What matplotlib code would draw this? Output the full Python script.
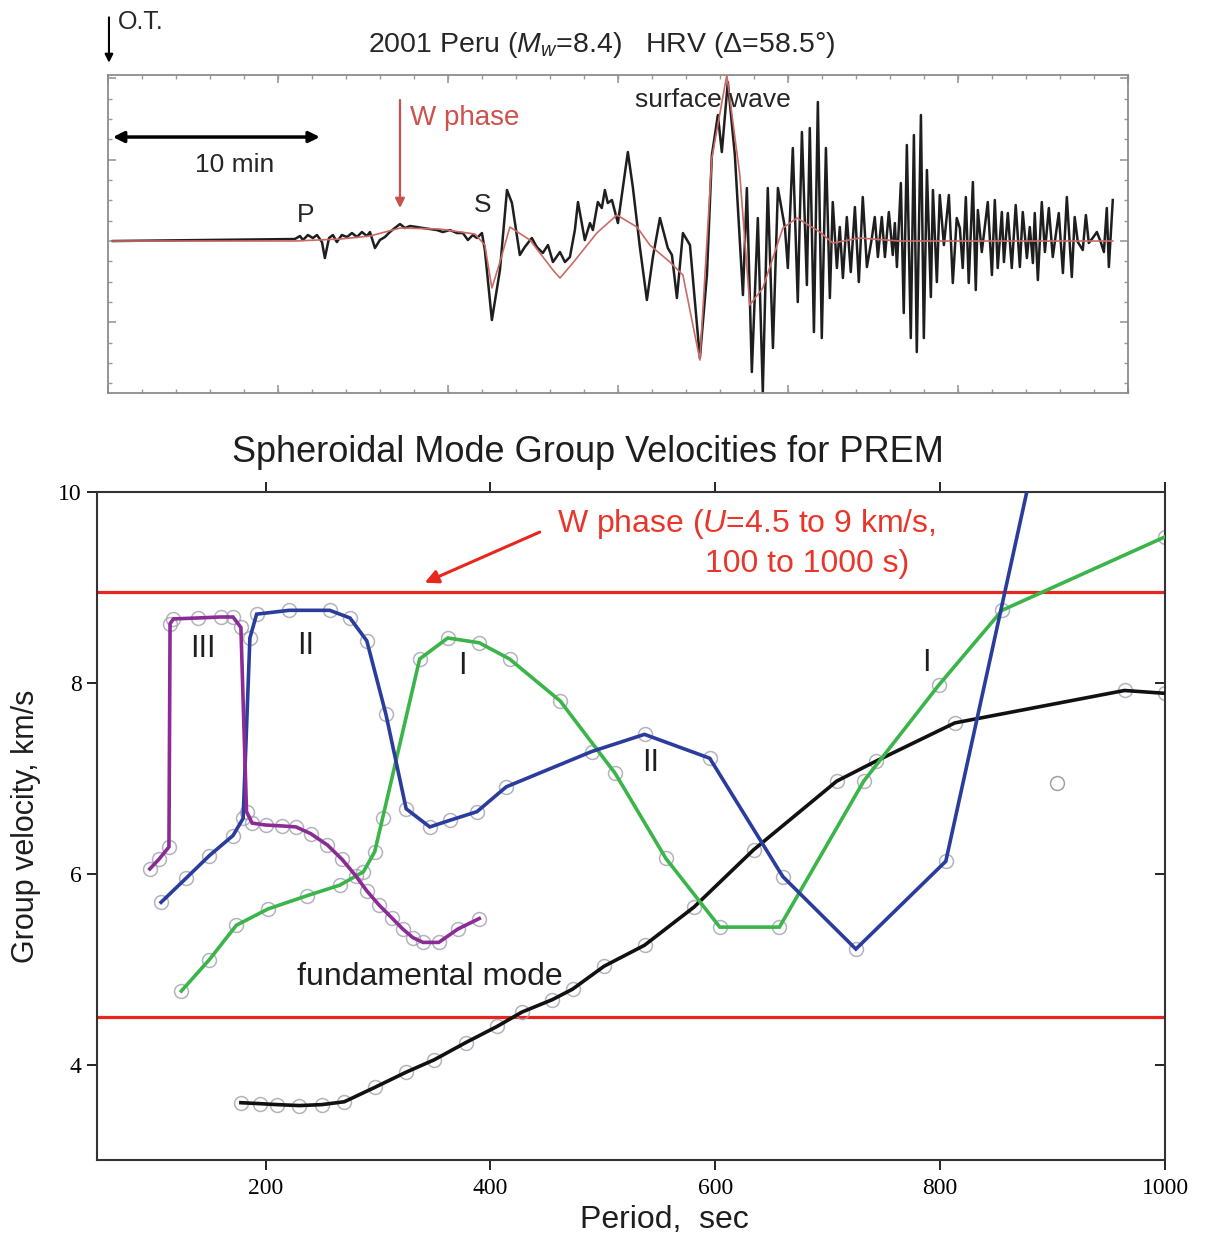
import matplotlib
matplotlib.use('Agg')
import matplotlib.pyplot as plt
import numpy as np

plt.rcParams['font.family'] = ['Liberation Sans', 'DejaVu Sans']
plt.rcParams['mathtext.fontset'] = 'custom'
plt.rcParams['mathtext.rm'] = 'Liberation Sans'
plt.rcParams['mathtext.it'] = 'Liberation Sans:italic'

# --- seismogram HRV (time in min after O.T., normalised amplitude)
seis_t = [0.24, 9.03, 9.28, 9.42, 9.66, 9.90, 10.10, 10.34, 10.48, 10.68,
          10.87, 11.06, 11.30, 11.55, 11.79, 12.03, 12.27, 12.51, 12.66, 12.90,
          13.14, 13.38, 13.62, 13.86, 14.11, 14.35, 14.59, 14.93, 15.22, 15.56,
          15.89, 16.18, 16.52, 16.86, 17.15, 17.39, 17.63, 17.83, 18.07, 18.21,
          18.55, 18.94, 19.28, 19.52, 19.90, 20.14, 20.48, 20.72, 21.01, 21.26,
          21.50, 21.84, 22.08, 22.32, 22.56, 22.71, 23.04, 23.29, 23.43, 23.67,
          23.86, 24.01, 24.15, 24.35, 24.64, 25.12, 25.36, 25.70, 26.04, 26.33,
          26.67, 27.05, 27.25, 27.49, 27.78, 28.12, 28.60, 28.94, 29.18, 29.47,
          29.66, 29.95, 30.29, 30.53, 30.68, 30.87, 31.11, 31.40, 31.64, 31.88,
          32.13, 32.37, 32.71, 32.85, 33.09, 33.33, 33.53, 33.77, 33.91, 34.11,
          34.30, 34.49, 34.69, 34.88, 35.02, 35.22, 35.36, 35.51, 35.70, 35.89,
          36.09, 36.28, 36.47, 36.67, 36.91, 37.05, 37.20, 37.39, 37.54, 37.73,
          37.92, 38.02, 38.12, 38.31, 38.45, 38.60, 38.79, 38.94, 39.08, 39.28,
          39.42, 39.57, 39.76, 39.86, 40.05, 40.19, 40.39, 40.63, 40.82, 41.01,
          41.16, 41.30, 41.45, 41.59, 41.79, 41.93, 42.03, 42.22, 42.32, 42.51,
          42.71, 42.85, 42.99, 43.19, 43.29, 43.48, 43.67, 43.86, 44.06, 44.20,
          44.40, 44.54, 44.69, 44.78, 44.93, 45.12, 45.27, 45.46, 45.65, 45.94,
          46.14, 46.33, 46.57, 46.71, 46.86, 47.10, 47.25, 47.39, 47.58, 47.78,
          47.97, 48.12, 48.26, 48.36, 48.55]
seis_a = [0.00, 0.02, 0.05, 0.01, 0.06, 0.03, 0.06, -0.01, -0.17, 0.03,
          0.06, -0.01, 0.06, 0.04, 0.08, 0.04, 0.09, 0.05, 0.09, -0.07,
          0.01, 0.04, 0.09, 0.13, 0.17, 0.13, 0.15, 0.14, 0.13, 0.12,
          0.11, 0.09, 0.11, 0.08, 0.08, 0.01, 0.06, 0.03, 0.08, -0.09,
          -0.79, -0.29, 0.51, 0.38, -0.14, -0.06, 0.03, -0.06, -0.12, -0.04,
          -0.21, -0.11, -0.21, -0.16, 0.11, 0.39, 0.01, 0.18, 0.11, 0.39,
          0.33, 0.51, 0.38, 0.41, 0.18, 0.89, 0.54, -0.06, -0.59, -0.16,
          0.23, -0.07, -0.14, -0.57, 0.08, -0.04, -1.17, -0.34, 0.86, 1.26,
          0.89, 1.59, 0.86, -0.01, -0.54, 0.53, -1.31, 0.23, -1.51, 0.53,
          -1.07, 0.53, 0.13, -0.27, 0.93, -0.61, 1.09, -0.44, 1.13, -0.91,
          1.39, -0.97, 0.93, -0.57, 0.39, -0.27, 0.14, -0.37, 0.24, -0.31,
          0.34, -0.41, 0.44, -0.26, 0.03, 0.24, -0.16, 0.24, -0.16, 0.29,
          -0.14, 0.18, -0.26, 0.58, -0.72, 0.96, -0.97, 1.06, -1.11, 1.26,
          -0.97, 0.71, -0.56, 0.51, -0.41, 0.46, -0.04, 0.46, -0.42, 0.23,
          0.13, -0.27, 0.44, -0.42, 0.59, -0.49, 0.31, -0.11, 0.06, 0.39,
          -0.34, 0.41, -0.27, 0.29, -0.21, 0.28, -0.27, 0.36, -0.26, 0.29,
          -0.17, 0.14, -0.22, 0.28, -0.39, 0.39, -0.11, 0.33, -0.16, 0.28,
          -0.32, 0.44, -0.36, 0.24, -0.01, -0.09, 0.26, -0.02, 0.03, 0.09,
          -0.01, -0.11, 0.33, -0.26, 0.41]
# W phase filtered trace
wph_t = [0.24, 9.03, 11.21, 12.66, 14.11, 16.04, 17.73, 18.21, 18.55, 18.94,
         19.42, 20.39, 21.50, 21.84, 22.46, 23.62, 24.59, 25.56, 26.18, 27.15,
         27.78, 28.60, 29.18, 29.90, 30.53, 31.01, 31.64, 32.61, 33.29, 34.40,
         35.02, 36.33, 38.26, 48.55]
wph_a = [0.00, 0.00, 0.02, 0.05, 0.13, 0.12, 0.07, -0.04, -0.47, -0.21,
         0.14, 0.01, -0.29, -0.37, -0.22, 0.08, 0.26, 0.14, -0.04, -0.21,
         -0.34, -1.19, 0.83, 1.66, 0.66, -0.64, -0.47, 0.13, 0.23, 0.09,
         -0.02, 0.03, 0.00, 0.00]
scale_bar = 10  # min

# --- group velocities (period s, U km/s)
fund_p = [178, 195, 210, 230, 250, 270, 297, 325, 350, 378, 406, 428, 455, 473,
          501, 537, 581, 634, 708, 743, 813, 964, 1000]
fund_u = [3.60, 3.59, 3.58, 3.57, 3.58, 3.61, 3.76, 3.92, 4.05, 4.23, 4.40, 4.55,
          4.68, 4.79, 5.03, 5.25, 5.65, 6.25, 6.97, 7.18, 7.58, 7.92, 7.89]
green_p = [125, 150, 174, 202, 237, 266, 287, 297, 304, 337, 362, 390, 417, 462,
           511, 556, 604, 657, 732, 799, 855, 1000]
green_u = [4.77, 5.10, 5.46, 5.63, 5.77, 5.88, 6.02, 6.23, 6.58, 8.25, 8.47, 8.42,
           8.25, 7.81, 7.05, 6.16, 5.44, 5.44, 6.97, 7.98, 8.76, 9.53]
blue_p = [107, 129, 150, 171, 180, 186, 192, 221, 257, 275, 290, 307, 325, 346,
          364, 388, 414, 490, 537, 595, 660, 725, 805, 880]
blue_u = [5.70, 5.95, 6.19, 6.40, 6.58, 8.47, 8.72, 8.76, 8.76, 8.68, 8.44, 7.67,
          6.68, 6.49, 6.56, 6.65, 6.91, 7.28, 7.46, 7.21, 5.97, 5.21, 6.13, 10.16]
purple_p = [97, 105, 114, 115, 118, 140, 160, 171, 178, 183, 188, 200, 215, 227,
            240, 255, 268, 280, 290, 301, 312, 322, 331, 340, 354, 371, 390]
purple_u = [6.05, 6.15, 6.28, 8.62, 8.67, 8.68, 8.69, 8.69, 8.58, 6.65, 6.53, 6.51,
            6.50, 6.49, 6.42, 6.30, 6.15, 5.98, 5.82, 5.67, 5.54, 5.42, 5.33, 5.28,
            5.28, 5.42, 5.53]
stray_p = [904]
stray_u = [6.95]
w_umin, w_umax = 4.5, 8.95

fig = plt.figure(figsize=(12.17, 12.34), dpi=100)

# ================= top : seismogram
ax1 = fig.add_axes([0.0887, 0.6815, 0.8381, 0.2577])
ax1.plot(seis_t, seis_a, color='#1e1e1e', lw=1.8, zorder=2)
ax1.plot(wph_t, wph_a, color='#cc6a66', lw=1.2, zorder=3)
ax1.set_xlim(0, 49.28)
ax1.set_ylim(-1.52, 1.66)
ax1.set_xticks(np.arange(0, 49.3, 8.213))
ax1.set_xticks(np.arange(0, 49.3, 1.6427), minor=True)
ax1.set_yticks(np.arange(-1, 3) * 0.814)
ax1.set_yticks(np.arange(-7, 9) * 0.2035, minor=True)
ax1.tick_params(which='both', direction='in', top=True, right=True,
                labelbottom=False, labelleft=False, colors='#9a9a9a')
ax1.tick_params(which='major', length=6, width=1.2)
ax1.tick_params(which='minor', length=3, width=1)
for s in ax1.spines.values():
    s.set_color('#8c8c8c')
    s.set_linewidth(1.3)

fig.text(0.4947, 0.9635, '2001 Peru ($M_w$=8.4)   HRV (Δ=58.5°)',
         ha='center', va='center', fontsize=20.5, color='#262626')
ax1.annotate('', xy=(0.001, 1.03), xytext=(0.001, 1.19), xycoords='axes fraction',
             arrowprops=dict(arrowstyle='-|>', color='k', lw=1.5, mutation_scale=12),
             annotation_clip=False)
ax1.text(0.0098, 1.167, 'O.T.', transform=ax1.transAxes, fontsize=18,
         ha='left', va='center', color='#262626')
ax1.annotate('', xy=(0.24 + scale_bar, 1.04), xytext=(0.24, 1.04),
             arrowprops=dict(arrowstyle='<|-|>', color='k', lw=2.5, mutation_scale=16,
                             shrinkA=0, shrinkB=0))
ax1.text(6.14, 0.76, '%d min' % scale_bar, ha='center', va='center', fontsize=19,
         color='#262626')
ax1.annotate('', xy=(14.11, 0.33), xytext=(14.11, 1.41),
             arrowprops=dict(arrowstyle='-|>', color='#c8504d', lw=1.6, mutation_scale=14,
                             shrinkA=0, shrinkB=0))
ax1.text(14.59, 1.23, 'W phase', ha='left', va='center', fontsize=20, color='#d0504c')
ax1.text(9.57, 0.26, 'P', ha='center', va='center', fontsize=19, color='#262626')
ax1.text(18.12, 0.36, 'S', ha='center', va='center', fontsize=19, color='#262626')
ax1.text(25.46, 1.41, 'surface wave', ha='left', va='center', fontsize=19,
         color='#262626')

# ================= bottom : group velocities
ax2 = fig.add_axes([0.0797, 0.0600, 0.8776, 0.5413])
ax2.axhline(w_umax, color='#e8261e', lw=2.3, zorder=1)
ax2.axhline(w_umin, color='#e8261e', lw=2.3, zorder=1)

curves = [(fund_p, fund_u, '#111111'), (green_p, green_u, '#3bb54a'),
          (blue_p, blue_u, '#2a3c9c'), (purple_p, purple_u, '#8c2a96')]
for p, u, c in curves:
    ax2.plot(p, u, 'o', mfc='none', mec='#a0a0b0', ms=10, mew=1.1, alpha=0.8, zorder=2)
    ax2.plot(p, u, color=c, lw=2.6, zorder=3, solid_joinstyle='miter')
ax2.plot(stray_p, stray_u, 'o', mfc='none', mec='#a0a0a0', ms=10, mew=1.1)

ax2.set_xlim(50, 1000)
ax2.set_ylim(3, 10)
ax2.set_xticks([200, 400, 600, 800, 1000])
ax2.set_yticks([4, 6, 8, 10])
ax2.tick_params(axis='x', direction='out', top=True, length=7, width=1.2,
                labelsize=17, labelfontfamily='Liberation Serif', pad=6)
ax2.tick_params(axis='y', direction='out', right=False, length=7, width=1.2,
                labelsize=17, labelfontfamily='Liberation Serif', pad=4)
sec = ax2.secondary_yaxis('right')
sec.set_yticks([4, 6, 8, 10])
sec.tick_params(direction='in', length=7, width=1.2, labelright=False)
sec.spines['right'].set_visible(False)
for s in ax2.spines.values():
    s.set_color('#333333')
    s.set_linewidth(1.5)

ax2.set_xlabel('Period,  sec', fontsize=23, labelpad=4, color='#1e1e1e')
ax2.xaxis.label.set_x(0.531)
ax2.set_ylabel('Group velocity, km/s', fontsize=22, labelpad=12, color='#1e1e1e')
fig.text(0.483, 0.6337, 'Spheroidal Mode Group Velocities for PREM', ha='center',
         va='center', fontsize=26, color='#1e1e1e')

for x, y, s in [(144, 8.35, 'III'), (236, 8.39, 'II'), (375, 8.18, 'I'),
                (542, 7.16, 'II'), (788, 8.21, 'I')]:
    ax2.text(x, y, s, ha='center', va='center', fontsize=22, color='#1e1e1e')
ax2.text(228, 4.92, 'fundamental mode', ha='left', va='center', fontsize=23,
         color='#1e1e1e')
ax2.text(459, 9.66, 'W phase ($U$=4.5 to 9 km/s,', ha='left', va='center',
         fontsize=23, color='#e8362b')
ax2.text(591, 9.25, '100 to 1000 s)', ha='left', va='center', fontsize=23,
         color='#e8362b')
ax2.annotate('', xy=(341.5, 9.05), xytext=(443.8, 9.58),
             arrowprops=dict(arrowstyle='-|>', color='#e8261e', lw=2.2,
                             mutation_scale=20, shrinkA=0, shrinkB=0))

fig.savefig('out.png', dpi=100)
